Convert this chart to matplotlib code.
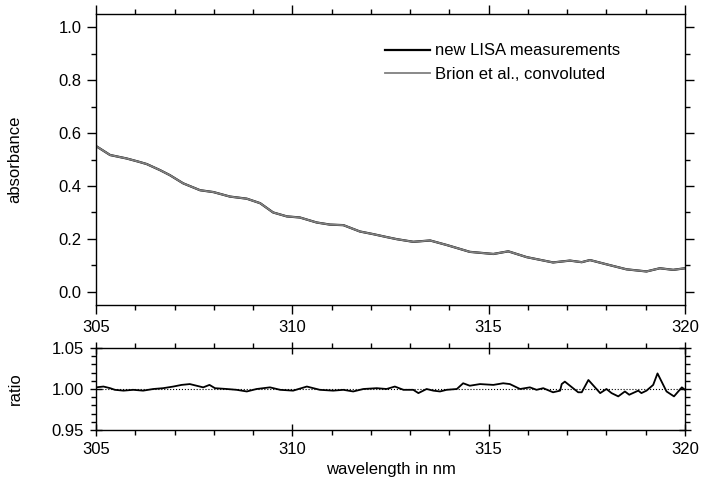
import matplotlib.pyplot as plt
from matplotlib.ticker import MultipleLocator

plt.rcParams['font.family'] = ['Liberation Sans', 'DejaVu Sans']
plt.rcParams['font.size'] = 12

# absorbance spectra (LISA and Brion et al. convoluted overlap closely)
wl_abs = [305.0, 305.36, 305.78, 306.08, 306.29, 306.63, 306.88, 307.22, 307.65,
          307.99, 308.41, 308.84, 309.18, 309.51, 309.86, 310.19, 310.62, 310.96,
          311.30, 311.72, 312.06, 312.4, 312.66, 313.08, 313.51, 313.93, 314.52,
          315.12, 315.50, 315.97, 316.64, 317.07, 317.37, 317.58, 318.00, 318.51,
          319.02, 319.36, 319.70, 320.0]
lisa = [0.551, 0.517, 0.504, 0.492, 0.483, 0.460, 0.441, 0.410, 0.384,
        0.377, 0.360, 0.352, 0.335, 0.300, 0.285, 0.281, 0.262, 0.254,
        0.252, 0.228, 0.218, 0.207, 0.199, 0.189, 0.194, 0.177, 0.151,
        0.143, 0.153, 0.131, 0.111, 0.118, 0.112, 0.120, 0.104, 0.085,
        0.077, 0.089, 0.083, 0.089]
brion = [0.551, 0.517, 0.504, 0.492, 0.483, 0.460, 0.441, 0.410, 0.384,
         0.377, 0.360, 0.352, 0.335, 0.300, 0.285, 0.281, 0.262, 0.254,
         0.252, 0.228, 0.218, 0.207, 0.199, 0.189, 0.194, 0.177, 0.151,
         0.143, 0.153, 0.131, 0.111, 0.118, 0.112, 0.120, 0.104, 0.085,
         0.077, 0.089, 0.083, 0.089]

# ratio LISA / Brion
wl_ratio = [305.0, 305.19, 305.36, 305.48, 305.70, 305.95, 306.20, 306.46, 306.71,
            306.97, 307.18, 307.39, 307.56, 307.73, 307.89, 308.03, 308.33, 308.58,
            308.84, 309.09, 309.43, 309.69, 310.02, 310.37, 310.70, 311.04, 311.30,
            311.55, 311.81, 312.15, 312.40, 312.61, 312.83, 313.08, 313.21, 313.42,
            313.59, 313.76, 313.93, 314.19, 314.35, 314.52, 314.78, 315.12, 315.37,
            315.54, 315.80, 316.05, 316.22, 316.39, 316.64, 316.82, 316.86, 316.94,
            317.28, 317.37, 317.54, 317.84, 318.00, 318.13, 318.30, 318.47, 318.58,
            318.81, 318.89, 319.02, 319.19, 319.30, 319.53, 319.72, 319.92, 320.0]
ratio = [1.002, 1.003, 1.001, 0.999, 0.998, 0.999, 0.998, 1.000, 1.001,
         1.003, 1.005, 1.006, 1.004, 1.002, 1.005, 1.001, 1.000, 0.999,
         0.997, 1.000, 1.002, 0.999, 0.998, 1.003, 0.999, 0.998, 0.999,
         0.997, 1.000, 1.001, 1.000, 1.003, 0.999, 0.999, 0.995, 1.000,
         0.998, 0.997, 0.999, 1.000, 1.007, 1.004, 1.006, 1.005, 1.007,
         1.006, 1.000, 1.002, 0.999, 1.001, 0.996, 0.998, 1.006, 1.009,
         0.996, 0.996, 1.011, 0.995, 1.000, 0.995, 0.991, 0.997, 0.993,
         0.998, 0.995, 0.998, 1.005, 1.019, 0.997, 0.991, 1.002, 0.999]


def style_axes(ax):
    ax.tick_params(which='both', top=True, right=True, direction='out', pad=4)
    ax.tick_params(which='major', length=6.5, width=1)
    ax.tick_params(which='minor', length=3.5, width=1)
    for s in ax.spines.values():
        s.set_linewidth(1)


fig = plt.figure(figsize=(7.08, 4.92), dpi=100)
ax1 = fig.add_axes([0.1356, 0.380, 0.8319, 0.5915])
ax2 = fig.add_axes([0.1356, 0.126, 0.8319, 0.1667])

ax1.plot(wl_abs, lisa, color='black', lw=1.6, label='new LISA measurements')
ax1.plot(wl_abs, brion, color='#808080', lw=1.3, label='Brion et al., convoluted')
ax1.set_xlim(305, 320)
ax1.set_ylim(-0.05, 1.05)
ax1.xaxis.set_major_locator(MultipleLocator(5))
ax1.xaxis.set_minor_locator(MultipleLocator(1))
ax1.yaxis.set_major_locator(MultipleLocator(0.2))
ax1.yaxis.set_minor_locator(MultipleLocator(0.1))
ax1.set_ylabel('absorbance')
ax1.yaxis.set_label_coords(-0.125, 0.5)
style_axes(ax1)
ax1.legend(loc='upper left', frameon=False, handlelength=2.7, handletextpad=0.3,
           labelspacing=0.53, borderaxespad=0, bbox_to_anchor=(0.479, 0.922))

ax2.axhline(1.0, color='black', lw=0.8, ls=':')
ax2.plot(wl_ratio, ratio, color='black', lw=1.3)
ax2.set_xlim(305, 320)
ax2.set_ylim(0.95, 1.05)
ax2.xaxis.set_major_locator(MultipleLocator(5))
ax2.xaxis.set_minor_locator(MultipleLocator(1))
ax2.yaxis.set_major_locator(MultipleLocator(0.05))
ax2.yaxis.set_minor_locator(MultipleLocator(0.01))
ax2.set_ylabel('ratio')
ax2.yaxis.set_label_coords(-0.125, 0.5)
ax2.set_xlabel('wavelength in nm', labelpad=4)
style_axes(ax2)
ax2.tick_params(which='major', direction='inout', length=9)

fig.savefig('out.png', dpi=100)
plt.close()
